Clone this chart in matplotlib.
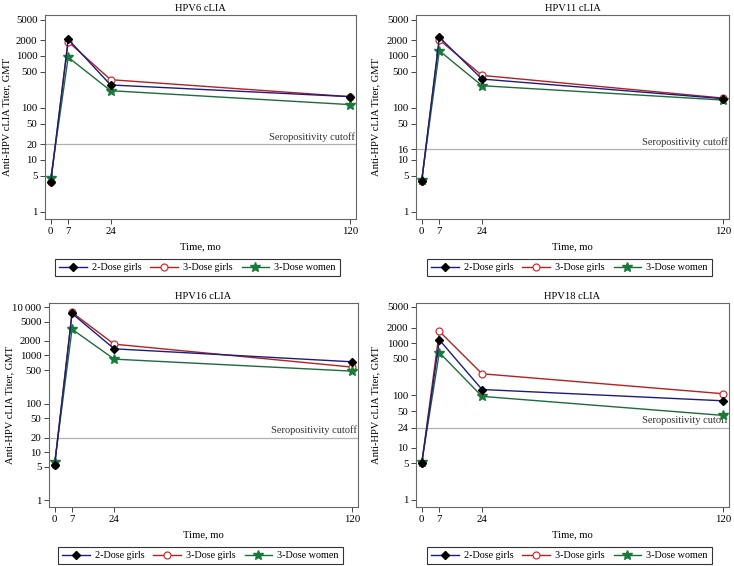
import numpy as np
import matplotlib
matplotlib.use('Agg')
import matplotlib.pyplot as plt

plt.rcParams['font.family'] = ['Liberation Serif', 'DejaVu Serif']
plt.rcParams['font.size'] = 8

# data (GMT, log scale)
months = [0, 7, 24, 120]

titles = ['HPV6 cLIA', 'HPV11 cLIA', 'HPV16 cLIA', 'HPV18 cLIA']
cutoffs = [20, 16, 20, 24]

two_dose_girls = [
    [3.7, 2100, 277, 165],
    [4.0, 2290, 360, 151],
    [5.5, 7400, 1374, 740],
    [5.0, 1160, 130, 79],
]
three_dose_girls = [
    [3.7, 1885, 350, 165],
    [4.0, 2040, 423, 155],
    [5.5, 7760, 1715, 575],
    [5.0, 1695, 260, 108],
]
three_dose_women = [
    [4.45, 945, 215, 116],
    [4.17, 1260, 268, 142],
    [6.1, 3500, 840, 474],
    [5.3, 663, 96, 41.5],
]

yticks_list = [
    [1, 5, 10, 20, 50, 100, 500, 1000, 2000, 5000],
    [1, 5, 10, 16, 50, 100, 500, 1000, 2000, 5000],
    [1, 5, 10, 20, 50, 100, 500, 1000, 2000, 5000, 10000],
    [1, 5, 10, 24, 50, 100, 500, 1000, 2000, 5000],
]
ytops = [6150, 6150, 12200, 5900]

series_names = ['2-Dose girls', '3-Dose girls', '3-Dose women']

W, H = 734, 566
fig = plt.figure(figsize=(W / 100, H / 100), dpi=100)

# axes boxes in pixels: left, top, right, bottom
boxes = [
    (45, 15, 356, 219),
    (416, 15, 729, 219),
    (49, 303, 358, 507),
    (416, 303, 729, 507),
]
# pixel x of the right edge of each y label
ylab_x = [11, 380, 14, 380]

for i in range(4):
    l, t, r, b = boxes[i]
    ax = fig.add_axes([l / W, 1 - b / H, (r - l) / W, (b - t) / H])
    ax.set_yscale('log')

    ax.axhline(cutoffs[i], color='#b0b0b0', lw=0.9, zorder=1)
    ax.text(121.8, cutoffs[i] * 1.12, 'Seropositivity cutoff', ha='right', va='bottom',
            fontsize=7.5, color='#333333')

    ax.plot(months, three_dose_girls[i], color='#b22222', lw=1.0, marker='o', ms=5,
            mfc='white', mec='#cc3333', mew=0.9, zorder=3, label=series_names[1])
    ax.plot(months, three_dose_women[i], color='#1e6b3c', lw=1.0, marker='*', ms=7,
            mfc='#1a7a3a', mec='#1a7a3a', zorder=4, label=series_names[2])
    ax.plot(months, two_dose_girls[i], color='#1c1c80', lw=1.0, marker='D', ms=4.5,
            mfc='black', mec='black', zorder=5, label=series_names[0])

    ax.set_xlim(-2.3, 122.4)
    ax.set_ylim(0.73, ytops[i])
    ax.set_xticks(months)
    ax.set_xticklabels([str(m) for m in months])
    yt = yticks_list[i]
    ax.set_yticks(yt)
    ax.set_yticklabels(['10\u2009000' if v == 10000 else str(v) for v in yt])
    ax.minorticks_off()
    ax.tick_params(direction='out', length=3.5, width=0.7, color='#444444', pad=2,
                   labelsize=7.8)

    for s in ax.spines.values():
        s.set_color('#666666')
        s.set_linewidth(0.8)

    ax.set_title(titles[i], fontsize=7.6, pad=3)
    ax.set_xlabel('Time, mo', fontsize=7.7, labelpad=5)
    ax.set_ylabel('Anti-HPV cLIA Titer, GMT', fontsize=7.6)
    ax.yaxis.set_label_coords((ylab_x[i] - l) / (r - l), 0.5)

    handles, labels = ax.get_legend_handles_labels()
    order = [2, 0, 1]
    leg = ax.legend([handles[k] for k in order], [labels[k] for k in order],
                    loc='center', bbox_to_anchor=(0.49, -0.238), ncol=3,
                    frameon=True, fancybox=False, edgecolor='black',
                    fontsize=7.3, handlelength=2.7, columnspacing=0.9,
                    borderpad=0.4, handletextpad=0.5)
    leg.get_frame().set_linewidth(0.8)

fig.savefig('out.png', dpi=100)
